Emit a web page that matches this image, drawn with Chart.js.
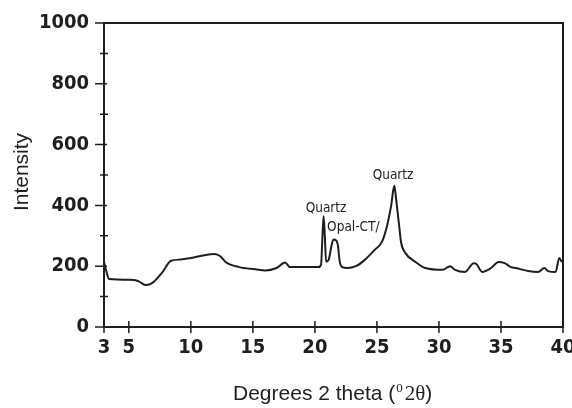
<!DOCTYPE html>
<html>
<head>
<meta charset="utf-8">
<script src="https://cdn.jsdelivr.net/npm/chart.js@4.4.1/dist/chart.umd.min.js"></script>
<style>
  html, body { margin: 0; padding: 0; background: #fff; }
  #wrap { width: 572px; height: 408px; }
</style>
</head>
<body>
<div id="wrap"><canvas id="xrd" width="572" height="408"></canvas></div>
<script>
// diffraction trace
const twoTheta = [3.0, 3.18, 3.4, 5.4, 5.8, 6.4, 6.9, 7.7, 8.4, 9.2, 10.0, 11.3, 11.9, 12.4, 12.8, 13.9,
    15.2, 16.0, 16.9, 17.6, 18.0, 19.1, 20.3, 20.5, 20.6, 20.7, 20.8, 20.9, 21.1, 21.35, 21.5, 21.7,
    21.85, 22.0, 22.2, 22.6, 23.3, 24.0, 24.8, 25.4, 25.8, 26.15, 26.4, 26.55, 26.8, 26.95, 27.3, 28.1,
    28.9, 30.3, 30.9, 31.3, 32.1, 32.8, 33.0, 33.5, 34.2, 34.8, 35.3, 35.8, 36.2, 37.2, 38.0, 38.5,
    38.8, 39.4, 39.7, 39.9];
const intensity = [215, 185, 158, 155, 150, 138, 145, 180, 218, 222, 227, 238, 240, 232, 214, 197,
    190, 186, 194, 212, 197, 197, 197, 205, 290, 365, 300, 215, 220, 270, 288, 285,
    270, 215, 197, 194, 200, 220, 253, 280, 330, 400, 465, 420, 330, 278, 243, 214,
    194, 188, 200, 188, 181, 210, 208, 181, 194, 214, 210, 197, 194, 184, 181, 194,
    184, 181, 227, 214];

const xTicks = [3, 5, 10, 15, 20, 25, 30, 35, 40];
const yTicks = [0, 200, 400, 600, 800, 1000];
const yMinorTicks = [100, 300, 500, 700, 900];

const peakNames = ['Quartz', 'Opal-CT/', 'Quartz'];
const peakX = [20.9, 23.1, 26.3];
const peakY = [391, 326, 500];

const ink = '#1e1e1e';
const narrow = '"DejaVu Sans Condensed", "Liberation Sans Narrow", sans-serif';

const frame = {
    id: 'frame',
    afterDraw(chart) {
        const ctx = chart.ctx;
        const a = chart.chartArea;
        const xs = chart.scales.x;
        const ys = chart.scales.y;
        ctx.save();
        ctx.strokeStyle = ink;
        ctx.lineWidth = 2;
        ctx.strokeRect(a.left, a.top, a.right - a.left, a.bottom - a.top);

        ctx.lineWidth = 1.5;
        ctx.beginPath();
        yTicks.forEach(v => {
            const y = ys.getPixelForValue(v);
            ctx.moveTo(a.left - 9, y);
            ctx.lineTo(a.left + 3, y);
        });
        yMinorTicks.forEach(v => {
            const y = ys.getPixelForValue(v);
            ctx.moveTo(a.left - 4, y);
            ctx.lineTo(a.left + 4, y);
        });
        xTicks.forEach(v => {
            const x = xs.getPixelForValue(v);
            ctx.moveTo(x, a.bottom - 6);
            ctx.lineTo(x, a.bottom + 6);
        });
        ctx.stroke();

        // peak labels
        ctx.fillStyle = ink;
        ctx.font = '13.5px ' + narrow;
        ctx.textAlign = 'center';
        ctx.textBaseline = 'middle';
        peakNames.forEach((t, i) => {
            ctx.fillText(t, xs.getPixelForValue(peakX[i]), ys.getPixelForValue(peakY[i]));
        });

        // axis titles
        ctx.font = '21px "Liberation Sans", Arial, sans-serif';
        ctx.textAlign = 'center';
        ctx.textBaseline = 'alphabetic';
        ctx.save();
        ctx.translate(28, 172);
        ctx.rotate(-Math.PI / 2);
        ctx.fillText('Intensity', 0, 0);
        ctx.restore();

        ctx.textAlign = 'left';
        let x = 233;
        const base = 400;
        const p1 = 'Degrees 2 theta (';
        ctx.fillText(p1, x, base);
        x += ctx.measureText(p1).width + 1;
        ctx.font = '13px "Liberation Serif", serif';
        ctx.fillText('0', x, base - 8);
        x += ctx.measureText('0').width + 2;
        ctx.font = '21px "Liberation Serif", serif';
        ctx.fillText('2θ', x, base);
        x += ctx.measureText('2θ').width;
        ctx.font = '21px "Liberation Sans", Arial, sans-serif';
        ctx.fillText(')', x, base);
        ctx.restore();
    }
};

new Chart(document.getElementById('xrd'), {
    type: 'line',
    data: {
        datasets: [{
            data: twoTheta.map((t, i) => ({ x: t, y: intensity[i] })),
            borderColor: ink,
            borderWidth: 2,
            pointRadius: 0,
            cubicInterpolationMode: 'monotone',
            fill: false,
        }],
    },
    options: {
        responsive: false,
        animation: false,
        layout: { padding: { top: 23, right: 9, left: 0, bottom: 0 } },
        plugins: { legend: { display: false }, tooltip: { enabled: false } },
        scales: {
            x: {
                type: 'linear',
                min: 3,
                max: 40,
                afterBuildTicks: s => { s.ticks = xTicks.map(v => ({ value: v })); },
                afterFit: s => { s.height = 81; s.paddingLeft = 0; s.paddingRight = 0; },
                grid: { display: false },
                border: { display: false },
                ticks: {
                    padding: 1,
                    maxRotation: 0,
                    color: ink,
                    font: { family: narrow, size: 20, weight: 'bold' },
                    callback: v => String(v),
                },
            },
            y: {
                min: 0,
                max: 1000,
                afterBuildTicks: s => { s.ticks = yTicks.map(v => ({ value: v })); },
                afterFit: s => { s.width = 104; s.paddingTop = 0; s.paddingBottom = 0; },
                grid: { display: false },
                border: { display: false },
                ticks: {
                    padding: 7,
                    color: ink,
                    font: { family: narrow, size: 20, weight: 'bold' },
                    callback: v => String(v),
                },
            },
        },
    },
    plugins: [frame],
});
</script>
</body>
</html>
